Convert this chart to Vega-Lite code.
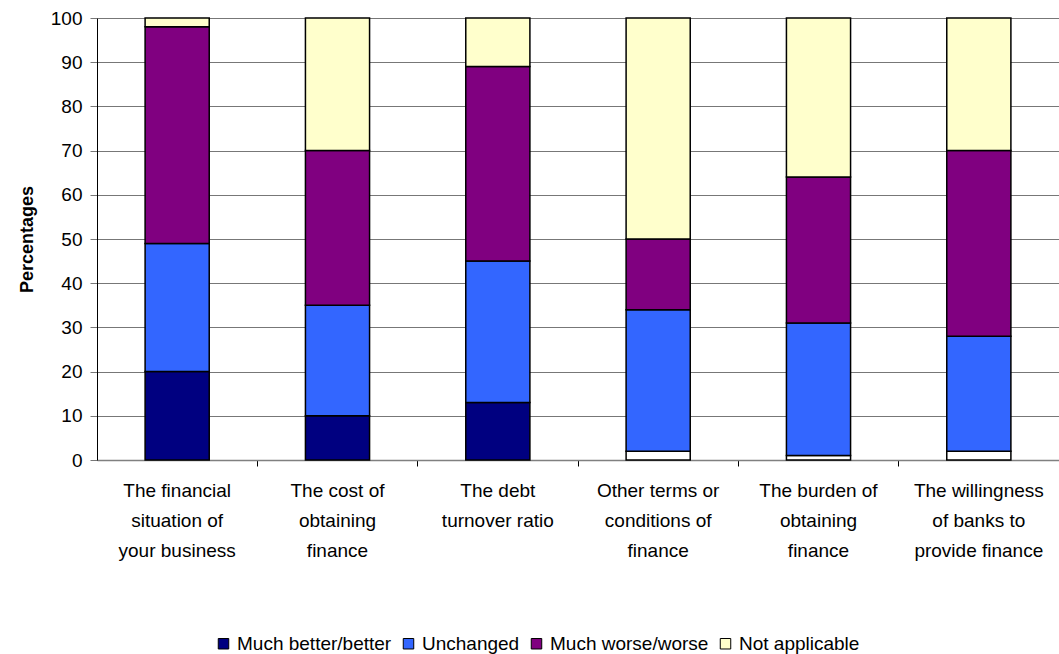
{
  "$schema": "https://vega.github.io/schema/vega-lite/v6.json",
  "width": 962,
  "height": 442,
  "autosize": {"type": "none"},
  "padding": {"left": 97, "top": 18, "right": 0, "bottom": 194},
  "background": "white",
  "config": {
    "view": {"stroke": null},
    "font": "Liberation Sans",
    "axis": {"labelColor": "black", "labelFont": "Liberation Sans"}
  },
  "data": {
    "values": [
      {"item": "The financial|situation of|your business", "answer": "Much better/better", "rank": 1, "pct": 20},
      {"item": "The financial|situation of|your business", "answer": "Unchanged", "rank": 2, "pct": 29},
      {"item": "The financial|situation of|your business", "answer": "Much worse/worse", "rank": 3, "pct": 49},
      {"item": "The financial|situation of|your business", "answer": "Not applicable", "rank": 4, "pct": 2},

      {"item": "The cost of|obtaining|finance", "answer": "Much better/better", "rank": 1, "pct": 10},
      {"item": "The cost of|obtaining|finance", "answer": "Unchanged", "rank": 2, "pct": 25},
      {"item": "The cost of|obtaining|finance", "answer": "Much worse/worse", "rank": 3, "pct": 35},
      {"item": "The cost of|obtaining|finance", "answer": "Not applicable", "rank": 4, "pct": 30},

      {"item": "The debt|turnover ratio", "answer": "Much better/better", "rank": 1, "pct": 13},
      {"item": "The debt|turnover ratio", "answer": "Unchanged", "rank": 2, "pct": 32},
      {"item": "The debt|turnover ratio", "answer": "Much worse/worse", "rank": 3, "pct": 44},
      {"item": "The debt|turnover ratio", "answer": "Not applicable", "rank": 4, "pct": 11},

      {"item": "Other terms or|conditions of|finance", "answer": "Other", "rank": 0, "pct": 2},
      {"item": "Other terms or|conditions of|finance", "answer": "Unchanged", "rank": 2, "pct": 32},
      {"item": "Other terms or|conditions of|finance", "answer": "Much worse/worse", "rank": 3, "pct": 16},
      {"item": "Other terms or|conditions of|finance", "answer": "Not applicable", "rank": 4, "pct": 50},

      {"item": "The burden of|obtaining|finance", "answer": "Other", "rank": 0, "pct": 1},
      {"item": "The burden of|obtaining|finance", "answer": "Unchanged", "rank": 2, "pct": 30},
      {"item": "The burden of|obtaining|finance", "answer": "Much worse/worse", "rank": 3, "pct": 33},
      {"item": "The burden of|obtaining|finance", "answer": "Not applicable", "rank": 4, "pct": 36},

      {"item": "The willingness|of banks to|provide finance", "answer": "Other", "rank": 0, "pct": 2},
      {"item": "The willingness|of banks to|provide finance", "answer": "Unchanged", "rank": 2, "pct": 26},
      {"item": "The willingness|of banks to|provide finance", "answer": "Much worse/worse", "rank": 3, "pct": 42},
      {"item": "The willingness|of banks to|provide finance", "answer": "Not applicable", "rank": 4, "pct": 30}
    ]
  },
  "mark": {"type": "bar", "stroke": "black", "strokeWidth": 1.5},
  "encoding": {
    "x": {
      "field": "item",
      "type": "nominal",
      "sort": null,
      "scale": {"paddingInner": 0.6, "paddingOuter": 0.3},
      "axis": {
        "title": null,
        "labelAngle": 0,
        "labelExpr": "split(datum.label, '|')",
        "labelFontSize": 19,
        "labelLineHeight": 30,
        "labelPadding": 15,
        "labelLimit": 200,
        "bandPosition": 1.75,
        "domainColor": "#808080",
        "domainWidth": 1.5,
        "tickColor": "black",
        "tickSize": 6
      }
    },
    "y": {
      "field": "pct",
      "type": "quantitative",
      "stack": "zero",
      "scale": {"domain": [0, 100], "nice": false},
      "axis": {
        "title": "Percentages",
        "titleFontSize": 18,
        "titleFontWeight": "bold",
        "titleColor": "black",
        "titlePadding": 14,
        "values": [0, 10, 20, 30, 40, 50, 60, 70, 80, 90, 100],
        "labelFontSize": 19,
        "labelPadding": 8,
        "grid": true,
        "gridColor": "#777777",
        "gridWidth": 1.2,
        "domainColor": "black",
        "tickColor": "#777777",
        "tickSize": 7
      }
    },
    "color": {
      "field": "answer",
      "type": "nominal",
      "scale": {
        "domain": ["Much better/better", "Unchanged", "Much worse/worse", "Not applicable", "Other"],
        "range": ["#000080", "#3366FF", "#800080", "#FFFFCC", "#FFFFFF"]
      },
      "legend": {
        "values": ["Much better/better", "Unchanged", "Much worse/worse", "Not applicable"],
        "title": null,
        "orient": "none",
        "legendX": 117,
        "legendY": 616,
        "direction": "horizontal",
        "symbolType": "square",
        "symbolSize": 110,
        "symbolStrokeColor": "black",
        "symbolStrokeWidth": 1,
        "labelFontSize": 19,
        "labelColor": "black",
        "labelOffset": 4,
        "columnPadding": 7
      }
    },
    "order": {"field": "rank", "type": "quantitative"}
  }
}
